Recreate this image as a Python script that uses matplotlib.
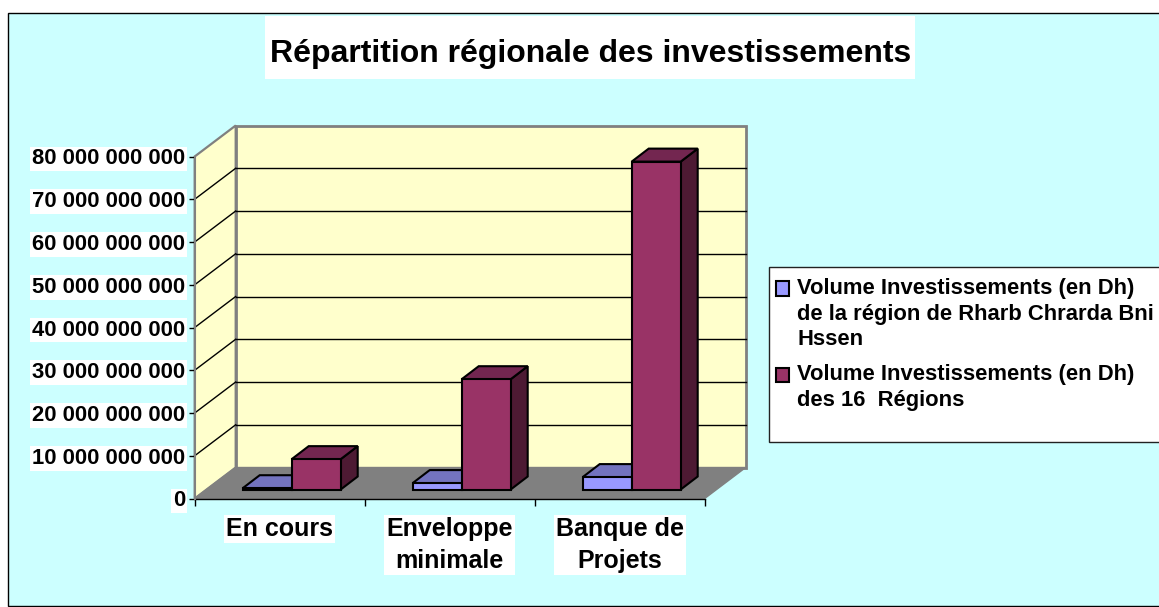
import matplotlib
matplotlib.use("Agg")
import matplotlib.pyplot as plt
from matplotlib.patches import Polygon, Rectangle, Patch
from matplotlib.legend_handler import HandlerPatch
from matplotlib.transforms import Affine2D

plt.rcParams['font.family'] = ['Liberation Sans', 'DejaVu Sans']
plt.rcParams['font.weight'] = 'bold'

categories = ["En cours", "Enveloppe\nminimale", "Banque de\nProjets"]
region_values = [0.3e9, 1.5e9, 2.9e9]
national_values = [7.1e9, 25.8e9, 76.7e9]
series_names = ["Volume Investissements (en Dh)\nde la région de Rharb Chrarda Bni\nHssen",
                "Volume Investissements (en Dh)\ndes 16  Régions"]
y_ticks = [0, 1e10, 2e10, 3e10, 4e10, 5e10, 6e10, 7e10, 8e10]
y_labels = ["0", "10 000 000 000", "20 000 000 000", "30 000 000 000", "40 000 000 000",
            "50 000 000 000", "60 000 000 000", "70 000 000 000", "80 000 000 000"]
title = "Répartition régionale des investissements"

W, H = 1159, 607
BG = "#CCFFFF"; WALL = "#FFFFCC"; GREY = "#808080"
colors = [("#9999FF", "#7373BF", "#4D4D80"), ("#993366", "#732650", "#4D1A33")]

fig = plt.figure(figsize=(W / 100, H / 100), dpi=100, facecolor="white")
fig.add_artist(Rectangle((7.5 / W, 1 - 605.5 / H), 1.2, 593 / H, transform=fig.transFigure,
                         fc=BG, ec="black", lw=1.0, zorder=-2))
fig.add_artist(Rectangle((265 / W, 1 - 79 / H), 650 / W, 63 / H, transform=fig.transFigure,
                         fc="white", ec="none", zorder=-1))

ax = fig.add_axes([194.7 / W, 1 - 498.5 / H, 510 / W, 342 / H])
ax.patch.set_visible(False)
ax.set_xlim(0, 3)
ax.set_ylim(0, 8e10)
for s in ("top", "right", "left", "bottom"):
    ax.spines[s].set_visible(False)


def shifted(dx, dy):
    return ax.transData + Affine2D().translate(dx, dy)


BACK = (41, 31)
back = shifted(*BACK)
T = ax.transData


def proj(x, y, d):
    return T.transform((x, y)) + (d[0], d[1])


left_wall = [proj(0, 0, (0, 0)), proj(0, 8e10, (0, 0)), proj(0, 8e10, BACK), proj(0, 0, BACK)]
ax.add_patch(Polygon(left_wall, transform=None, fc=WALL, ec=GREY, lw=1.6, zorder=1, clip_on=False))
ax.add_patch(Rectangle((0, 0), 3, 8e10, transform=back, fc=WALL, ec=GREY, lw=2.0, zorder=1, clip_on=False))
floor = [proj(0, 0, (0, 0)), proj(3, 0, (0, 0)), proj(3, 0, BACK), proj(0, 0, BACK)]
ax.add_patch(Polygon(floor, transform=None, fc=GREY, ec=GREY, lw=1.0, zorder=2, clip_on=False))

for v in y_ticks[1:-1]:
    ax.plot([0, 3], [v, v], transform=back, color="black", lw=1.0, zorder=1.5, clip_on=False)
    a, b = proj(0, v, (0, 0)), proj(0, v, BACK)
    ax.plot([a[0], b[0]], [a[1], b[1]], transform=None, color="black", lw=1.0, zorder=1.5, clip_on=False)

BAR_W = 49 / 170
FRONT = (12, 9)
DEPTH = (17, 13)


def draw_bar(x0, v, cols, z):
    x1 = x0 + BAR_W
    f = FRONT
    b = (FRONT[0] + DEPTH[0], FRONT[1] + DEPTH[1])
    kw = dict(transform=None, ec="black", lw=1.5, joinstyle="miter", clip_on=False, zorder=z)
    ax.add_patch(Polygon([proj(x1, 0, f), proj(x1, v, f), proj(x1, v, b), proj(x1, 0, b)], fc=cols[2], **kw))
    ax.add_patch(Polygon([proj(x0, v, f), proj(x1, v, f), proj(x1, v, b), proj(x0, v, b)], fc=cols[1], **kw))
    ax.add_patch(Polygon([proj(x0, 0, f), proj(x1, 0, f), proj(x1, v, f), proj(x0, v, f)], fc=cols[0], **kw))


for i in range(3):
    left = i + 36 / 170
    draw_bar(left, region_values[i], colors[0], 3 + i * 0.1)
    draw_bar(left + BAR_W, national_values[i], colors[1], 3.05 + i * 0.1)

ax.set_yticks(y_ticks)
ax.set_yticklabels(y_labels, fontsize=15.8, fontweight="bold",
                   bbox=dict(fc="white", ec="none", pad=1.5))
ax.tick_params(axis="y", length=4, width=1, color="black", pad=3)
ax.set_xticks([0, 1, 2, 3])
ax.set_xticklabels([])
ax.set_xticks([0.5, 1.5, 2.5], minor=True)
ax.set_xticklabels(categories, minor=True, fontsize=18, fontweight="bold", linespacing=1.4,
                   va="top", bbox=dict(fc="white", ec="none", pad=1.5))
ax.tick_params(axis="x", which="major", length=5, width=1, color="black")
ax.tick_params(axis="x", which="minor", length=0, pad=13.5)
ax.plot([0, 3], [0, 0], color="black", lw=1.0, zorder=2.5, clip_on=False)
ax.plot([0, 0], [0, 8e10], color=GREY, lw=1.5, zorder=2.5, clip_on=False)

fig.text(591 / W, 1 - 54 / H, title, ha="center", va="center", fontsize=23, fontweight="bold")

# legend
fig.add_artist(Rectangle((768.5 / W, 1 - 441.5 / H), 1.2, 175 / H, transform=fig.transFigure,
                         fc="white", ec="#222222", lw=1.0, zorder=-1))
STEP = 18.7


def top_aligned(n_lines):
    def make(legend, orig_handle, xdescent, ydescent, width, height, fontsize):
        return Rectangle((-xdescent, -ydescent + (n_lines - 1) * STEP / 2), width, height)
    return HandlerPatch(patch_func=make)


handles = [Patch(fc=colors[0][0], ec="black", lw=1.5), Patch(fc=colors[1][0], ec="black", lw=1.5)]
leg = fig.legend(handles, series_names, loc="upper left", bbox_to_anchor=(775.5 / W, 1 - 278 / H),
                 frameon=False, fontsize=15.8, borderpad=0, borderaxespad=0, handlelength=0.62,
                 handleheight=0.62, handletextpad=0.36, labelspacing=0.63, alignment="left",
                 handler_map={handles[0]: top_aligned(3), handles[1]: top_aligned(2)})
for t in leg.get_texts():
    t.set_linespacing(1.29)
    t.set_fontweight("bold")

fig.savefig("out.png", dpi=100, facecolor="white")
